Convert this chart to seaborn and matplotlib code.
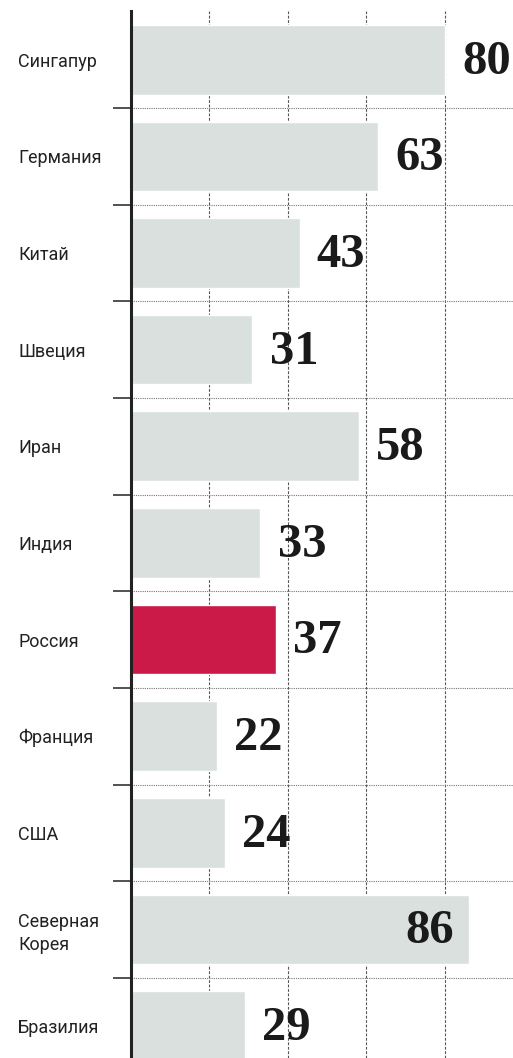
import matplotlib
matplotlib.use('Agg')
import matplotlib.pyplot as plt
import seaborn as sns
import pandas as pd
import numpy as np

# Data
countries = ['Сингапур', 'Германия', 'Китай', 'Швеция', 'Иран', 'Индия',
             'Россия', 'Франция', 'США', 'Северная\nКорея', 'Бразилия']
values = [80, 63, 43, 31, 58, 33, 37, 22, 24, 86, 29]
highlight = 'Россия'

df = pd.DataFrame({'country': countries, 'value': values})

grey = '#d9e0dd'
red = '#cc1a48'
palette = {c: (red if c == highlight else grey) for c in countries}

sns.set_style('white')
plt.rcParams['font.family'] = ['Roboto', 'DejaVu Sans']

fig = plt.figure(figsize=(5.13, 10.58), dpi=100)
ax = fig.add_axes([130.5 / 513, 0, 1 - 130.5 / 513, 1 - 11.4 / 1058])

sns.barplot(data=df, x='value', y='country', hue='country', palette=palette,
            order=countries, orient='h', width=0.72, legend=False,
            saturation=1, ax=ax, zorder=2)

ax.set_xlim(0, 97.3)
ax.set_ylim(10.33, -0.5)

# dashed vertical grid
for gx in [20, 40, 60, 80]:
    ax.axvline(gx, color='#555555', lw=0.8, ls=(0, (2.5, 1.5)), zorder=1)
# dotted separators between categories
n = len(countries)
for k in range(n - 1):
    ax.axhline(k + 0.5, color='#777777', lw=0.8, ls=(0, (1, 1)), zorder=1)

# spines
for s in ['top', 'right', 'bottom']:
    ax.spines[s].set_visible(False)
ax.spines['left'].set_color('#222222')
ax.spines['left'].set_linewidth(2.2)
ax.spines['left'].set_zorder(3)

ax.set_xticks([])
ax.set_xlabel('')
ax.set_ylabel('')
ax.set_yticks(range(n))
ax.set_yticklabels(countries, ha='left', fontsize=13, color='#222222',
                   linespacing=1.35)
ax.tick_params(axis='y', which='major', left=True, length=0, pad=81)
ax.set_yticks(np.arange(0.5, n - 0.5, 1), minor=True)
ax.tick_params(axis='y', which='minor', left=True, length=13, width=1.1,
               color='#222222')

# value labels (only the longest bar gets its label inside)
for i, v in enumerate(values):
    if v > 84:
        ax.text(v - 3.8, i + 0.02, str(v), ha='right', va='center',
                family='Liberation Serif', fontweight='bold', fontsize=35,
                color='#1a1a1a', zorder=4)
    else:
        ax.text(v + 4.4, i + 0.02, str(v), ha='left', va='center',
                family='Liberation Serif', fontweight='bold', fontsize=35,
                color='#1a1a1a', zorder=4)

fig.savefig('out.png', dpi=100)
